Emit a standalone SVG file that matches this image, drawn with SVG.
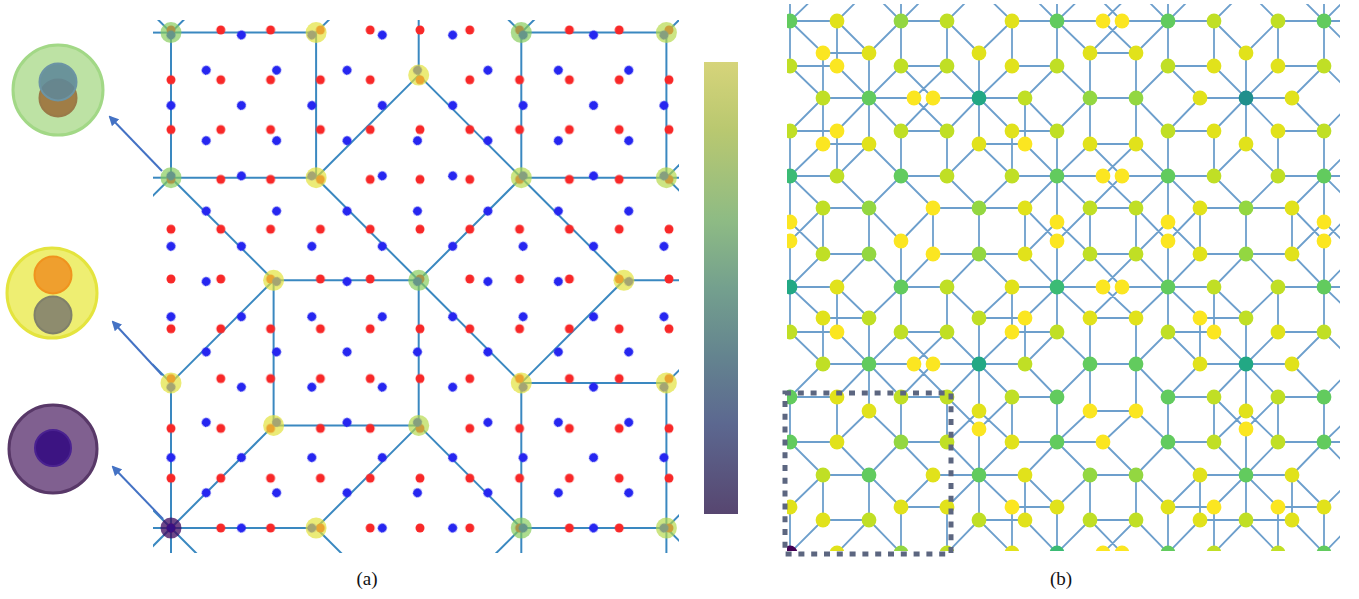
<svg xmlns="http://www.w3.org/2000/svg" width="1359" height="599" viewBox="0 0 1359 599">
<style>
.ln{stroke:#3a88c0;stroke-width:2;fill:none;stroke-linecap:butt}
.ar{stroke:#4472c4;stroke-width:2;fill:none}
.hy{fill:#e2e236;fill-opacity:.68}
.hg{fill:#84cc58;fill-opacity:.68}
.hyg{fill:#b4d848;fill-opacity:.68}
.hp{fill:#3e0a60;fill-opacity:.75}
.bl{stroke:#6d9fcc;stroke-width:1.8;fill:none}
.y1{fill:#fbe621}
.y2{fill:#e1e21b}
.yg{fill:#c0df25}
.g1{fill:#93d741}
.g2{fill:#62cb5e}
.tg{fill:#3bbb75}
.t1{fill:#22a884}
.t2{fill:#208f8c}
.pu{fill:#440154}
.cap{font-family:"Liberation Serif","Times New Roman",serif;font-size:19px;fill:#111}
</style>
<defs>
<pattern id="pr" patternUnits="userSpaceOnUse" x="146.1" y="503.1" width="49.8" height="49.8"><circle cx="24.9" cy="24.9" r="4.5" fill="#f82828"/></pattern>
<pattern id="pb" patternUnits="userSpaceOnUse" x="146.1" y="503.1" width="49.8" height="49.8" patternTransform="rotate(45 171 528)"><circle cx="24.9" cy="24.9" r="4.5" fill="#2626f0"/></pattern>
<clipPath id="ca"><rect x="153" y="20" width="526" height="533"/></clipPath>
<clipPath id="cb"><rect x="787" y="4" width="553" height="547"/></clipPath>
<marker id="ah" viewBox="0 0 10 10" refX="8" refY="5" markerWidth="5" markerHeight="5" orient="auto"><path d="M0,0 L10,5 L0,10 z" fill="#4472c4"/></marker>
<linearGradient id="cbar" x1="0" y1="0" x2="0" y2="1">
<stop offset="0" stop-color="#d6d47a"/>
<stop offset="0.15" stop-color="#b9c870"/>
<stop offset="0.35" stop-color="#8ebb84"/>
<stop offset="0.5" stop-color="#74a08e"/>
<stop offset="0.65" stop-color="#64848f"/>
<stop offset="0.8" stop-color="#5c6890"/>
<stop offset="1" stop-color="#574670"/>
</linearGradient>
</defs>
<rect width="1359" height="599" fill="#fff"/>

<!-- Panel (a) -->
<g id="panel-a">
<g id="a-connectors" clip-path="url(#ca)" class="ln">
<line x1="171" y1="32.6" x2="316.1" y2="32.6"/>
<line x1="171" y1="32.6" x2="171" y2="177.7"/>
<line x1="316.1" y1="32.6" x2="316.1" y2="177.7"/>
<line x1="171" y1="177.7" x2="316.1" y2="177.7"/>
<line x1="521.3" y1="32.6" x2="666.4" y2="32.6"/>
<line x1="521.3" y1="32.6" x2="521.3" y2="177.7"/>
<line x1="666.4" y1="32.6" x2="666.4" y2="177.7"/>
<line x1="521.3" y1="177.7" x2="690" y2="177.7"/>
<line x1="316.1" y1="177.7" x2="418.7" y2="75.1"/>
<line x1="418.7" y1="75.1" x2="521.3" y2="177.7"/>
<line x1="171" y1="177.7" x2="273.6" y2="280.3"/>
<line x1="316.1" y1="177.7" x2="418.7" y2="280.3"/>
<line x1="521.3" y1="177.7" x2="418.7" y2="280.3"/>
<line x1="521.3" y1="177.7" x2="623.9" y2="280.3"/>
<line x1="273.6" y1="280.3" x2="418.7" y2="280.3"/>
<line x1="273.6" y1="280.3" x2="273.6" y2="425.4"/>
<line x1="418.7" y1="280.3" x2="418.7" y2="425.4"/>
<line x1="273.6" y1="280.3" x2="171" y2="382.9"/>
<line x1="418.7" y1="280.3" x2="521.3" y2="382.9"/>
<line x1="623.9" y1="280.3" x2="521.3" y2="382.9"/>
<line x1="171" y1="382.9" x2="171" y2="560"/>
<line x1="521.3" y1="382.9" x2="666.4" y2="382.9"/>
<line x1="521.3" y1="382.9" x2="521.3" y2="560"/>
<line x1="666.4" y1="382.9" x2="666.4" y2="560"/>
<line x1="273.6" y1="425.4" x2="418.7" y2="425.4"/>
<line x1="273.6" y1="425.4" x2="171" y2="528"/>
<line x1="418.7" y1="425.4" x2="316.1" y2="528"/>
<line x1="418.7" y1="425.4" x2="521.3" y2="528"/>
<line x1="150" y1="528" x2="316.1" y2="528"/>
<line x1="521.3" y1="528" x2="666.4" y2="528"/>
<line x1="150" y1="32.6" x2="171" y2="32.6"/>
<line x1="171" y1="32.6" x2="150" y2="11.6"/>
<line x1="171" y1="32.6" x2="192" y2="11.6"/>
<line x1="316.1" y1="32.6" x2="337.1" y2="11.6"/>
<line x1="418.7" y1="75.1" x2="418.7" y2="10"/>
<line x1="521.3" y1="32.6" x2="500.3" y2="11.6"/>
<line x1="521.3" y1="32.6" x2="542.3" y2="11.6"/>
<line x1="666.4" y1="32.6" x2="687.4" y2="11.6"/>
<line x1="150" y1="177.7" x2="171" y2="177.7"/>
<line x1="171" y1="177.7" x2="150" y2="198.7"/>
<line x1="666.4" y1="177.7" x2="690" y2="154.1"/>
<line x1="666.4" y1="177.7" x2="690" y2="201.3"/>
<line x1="623.9" y1="280.3" x2="690" y2="280.3"/>
<line x1="171" y1="382.9" x2="150" y2="361.9"/>
<line x1="666.4" y1="382.9" x2="690" y2="359.3"/>
<line x1="171" y1="528" x2="150" y2="549"/>
<line x1="171" y1="528" x2="200" y2="557"/>
<line x1="171" y1="528" x2="150" y2="507"/>
<line x1="316.1" y1="528" x2="345.1" y2="557"/>
<line x1="521.3" y1="528" x2="492.3" y2="557"/>
<line x1="666.4" y1="528" x2="690" y2="504.4"/>
<line x1="666.4" y1="528" x2="690" y2="551.6"/>
</g>
<g id="a-lattice" clip-path="url(#ca)">
<rect x="160" y="22" width="520" height="518" fill="url(#pr)"/>
<rect x="160" y="22" width="520" height="518" fill="url(#pb)"/>
</g>
<g id="a-nodes">
<g id="a-A1" class="hg"><circle cx="171" cy="32.6" r="10.5"/></g>
<g id="a-A2" class="hy"><circle cx="316.1" cy="32.6" r="10.5"/></g>
<g id="a-A3" class="hy"><circle cx="418.7" cy="75.1" r="10.5"/></g>
<g id="a-A4" class="hg"><circle cx="521.3" cy="32.6" r="10.5"/></g>
<g id="a-A5" class="hyg"><circle cx="666.4" cy="32.6" r="10.5"/></g>
<g id="a-B1" class="hg"><circle cx="171" cy="177.7" r="10.5"/></g>
<g id="a-B2" class="hy"><circle cx="316.1" cy="177.7" r="10.5"/></g>
<g id="a-B3" class="hyg"><circle cx="521.3" cy="177.7" r="10.5"/></g>
<g id="a-B4" class="hyg"><circle cx="666.4" cy="177.7" r="10.5"/></g>
<g id="a-C1" class="hy"><circle cx="273.6" cy="280.3" r="10.5"/></g>
<g id="a-C2" class="hg"><circle cx="418.7" cy="280.3" r="10.5"/></g>
<g id="a-C3" class="hy"><circle cx="623.9" cy="280.3" r="10.5"/></g>
<g id="a-D1" class="hy"><circle cx="171" cy="382.9" r="10.5"/></g>
<g id="a-D2" class="hy"><circle cx="521.3" cy="382.9" r="10.5"/></g>
<g id="a-D3" class="hy"><circle cx="666.4" cy="382.9" r="10.5"/></g>
<g id="a-E1" class="hy"><circle cx="273.6" cy="425.4" r="10.5"/></g>
<g id="a-E2" class="hyg"><circle cx="418.7" cy="425.4" r="10.5"/></g>
<g id="a-F1" class="hp"><circle cx="171" cy="528" r="10.5"/></g>
<g id="a-F2" class="hy"><circle cx="316.1" cy="528" r="10.5"/></g>
<g id="a-F3" class="hg"><circle cx="521.3" cy="528" r="10.5"/></g>
<g id="a-F4" class="hyg"><circle cx="666.4" cy="528" r="10.5"/></g>
</g>
<g id="a-arrows" class="ar">
<line x1="162" y1="171" x2="110" y2="117" marker-end="url(#ah)"/>
<line x1="162" y1="375" x2="113" y2="322" marker-end="url(#ah)"/>
<line x1="163" y1="519" x2="113" y2="467" marker-end="url(#ah)"/>
</g>
<g id="inset-green">
<circle cx="58" cy="90" r="45" fill="#bde2a4" stroke="#a2d886" stroke-width="3"/>
<circle cx="58" cy="98" r="18.5" fill="#a07d46" stroke="#9a7a48" stroke-width="2"/>
<circle cx="58" cy="82" r="18.5" fill="#5f8898" fill-opacity="0.88" stroke="#6c94a4" stroke-width="2"/>
</g>
<g id="inset-yellow">
<circle cx="52" cy="293" r="45" fill="#eeee72" stroke="#e4e43e" stroke-width="3"/>
<circle cx="53" cy="275" r="18.5" fill="#ef9f2e" stroke="#f0931e" stroke-width="2"/>
<circle cx="53" cy="315" r="18.5" fill="#8e8c6e" stroke="#80806a" stroke-width="2"/>
</g>
<g id="inset-purple">
<circle cx="53" cy="449" r="44" fill="#806090" stroke="#583868" stroke-width="3"/>
<circle cx="53" cy="448" r="18" fill="#3c1482" stroke="#4a2290" stroke-width="2"/>
</g>
<g id="colorbar">
<rect x="704" y="62" width="34" height="452" fill="url(#cbar)"/>
</g>
<text class="cap" x="367" y="585" text-anchor="middle">(a)</text>
</g>

<!-- Panel (b) -->
<g id="panel-b">
<g id="b-connectors" clip-path="url(#cb)" class="bl">
<path d="M790 21H837M901 21H947M1012 21H1103M1122 21H1214M1278 21H1345M823 53H869M1090 53H1136M790 66H837M901 66H947M1012 66H1057M1168 66H1214M1278 66H1324M823 98H914M933 98H1025M1090 98H1136M1200 98H1292M790 131H837M901 131H947M1012 131H1057M1168 131H1214M1278 131H1324M823 144H869M979 144H1025M1090 144H1136M790 176H837M901 176H947M1012 176H1103M1122 176H1214M1278 176H1345M823 208H869M933 208H1025M1090 208H1136M1200 208H1292M823 254H869M933 254H1025M1090 254H1136M1200 254H1292M790 287H837M901 287H947M1012 287H1103M1122 287H1214M1278 287H1345M823 318H869M979 318H1025M1090 318H1136M1200 318H1246M790 332H837M901 332H947M1012 332H1057M1168 332H1214M1278 332H1324M823 364H914M933 364H1025M1090 364H1136M1200 364H1292M790 397H837M901 397H947M1012 397H1057M1168 397H1214M1278 397H1324M1090 411H1136M790 442H837M901 442H947M1012 442H1103M1168 442H1214M1278 442H1345M823 475H869M933 475H1025M1090 475H1136M1200 475H1292M901 507H947M1012 507H1057M1168 507H1214M1278 507H1324M823 520H869M979 520H1025M1090 520H1136M1200 520H1292M790 553H837M901 553H947M1012 553H1103M1122 553H1214M1278 553H1345"/>
<path d="M790 0V66M790 131V222M790 241V332M790 397V442M790 507V553M823 53V144M823 208V254M823 318V364M823 475V520M837 21V66M837 131V176M837 287V332M837 397V442M869 53V144M869 208V254M869 318V411M869 475V520M901 0V66M901 131V176M901 241V332M901 397V442M901 507V553M933 208V254M947 21V66M947 131V176M947 287V332M947 397V442M947 507V553M979 53V144M979 208V254M979 318V411M979 429V520M1012 21V66M1012 131V176M1012 287V332M1012 397V442M1012 507V553M1025 98V144M1025 208V254M1025 318V364M1025 475V520M1057 0V66M1057 131V222M1057 241V332M1057 397V442M1057 507V553M1090 53V144M1090 208V254M1090 318V411M1090 475V520M1136 53V144M1136 208V254M1136 318V411M1136 475V520M1168 0V66M1168 131V222M1168 241V332M1168 397V442M1168 507V553M1200 208V254M1200 318V364M1200 475V520M1214 21V66M1214 131V176M1214 287V332M1214 397V442M1214 507V553M1246 53V144M1246 208V254M1246 318V411M1246 429V520M1278 21V66M1278 131V176M1278 287V332M1278 397V442M1278 507V553M1292 208V254M1292 475V520M1324 0V66M1324 131V222M1324 241V332M1324 397V442M1324 507V553"/>
<path d="M823 -11L790 21M869 -11L837 21M869 -11L901 21M933 -11L901 21M979 -11L947 21M979 -11L1012 21M1025 -11L1057 21M1090 -11L1057 21M1136 -11L1103 21M1090 -11L1122 21M1136 -11L1168 21M1200 -11L1168 21M1246 -11L1214 21M1246 -11L1278 21M1292 -11L1324 21M1356 -11L1324 21
M790 21L823 53M837 21L869 53M901 21L869 53M947 21L979 53M1012 21L979 53M1057 21L1090 53M1103 21L1136 53M1122 21L1090 53M1168 21L1136 53M1214 21L1246 53M1278 21L1246 53M1324 21L1356 53
M790 66L823 98M837 66L869 98M901 66L869 98M901 66L933 98M947 66L914 98M947 66L979 98M1012 66L979 98M1057 66L1025 98M1057 66L1090 98M1168 66L1136 98M1168 66L1200 98M1214 66L1246 98M1278 66L1246 98M1324 66L1292 98M1324 66L1356 98
M823 98L790 131M869 98L837 131M869 98L901 131M914 98L947 131M933 98L901 131M979 98L947 131M979 98L1012 131M1025 98L1057 131M1090 98L1057 131M1136 98L1168 131M1200 98L1168 131M1246 98L1214 131M1246 98L1278 131M1292 98L1324 131M1356 98L1324 131
M823 144L790 176M869 144L837 176M869 144L901 176M979 144L947 176M979 144L1012 176M1025 144L1057 176M1090 144L1057 176M1090 144L1122 176M1136 144L1103 176M1136 144L1168 176M1246 144L1214 176M1246 144L1278 176M1356 144L1324 176
M790 176L823 208M837 176L869 208M901 176L869 208M901 176L933 208M947 176L979 208M1012 176L979 208M1057 176L1025 208M1057 176L1090 208M1103 176L1136 208M1122 176L1090 208M1168 176L1136 208M1168 176L1200 208M1214 176L1246 208M1278 176L1246 208M1324 176L1292 208M1324 176L1356 208
M823 208L790 241M869 208L901 241M933 208L901 241M1025 208L1057 241M1090 208L1057 241M1136 208L1168 241M1200 208L1168 241M1292 208L1324 241M1356 208L1324 241
M790 222L823 254M1057 222L1025 254M1057 222L1090 254M1168 222L1136 254M1168 222L1200 254M1324 222L1292 254M1324 222L1356 254
M823 254L790 287M869 254L837 287M869 254L901 287M933 254L901 287M979 254L947 287M979 254L1012 287M1025 254L1057 287M1090 254L1057 287M1090 254L1122 287M1136 254L1103 287M1136 254L1168 287M1200 254L1168 287M1246 254L1214 287M1246 254L1278 287M1292 254L1324 287M1356 254L1324 287
M790 287L823 318M837 287L869 318M901 287L869 318M947 287L979 318M1012 287L979 318M1057 287L1025 318M1057 287L1090 318M1103 287L1136 318M1122 287L1090 318M1168 287L1136 318M1168 287L1200 318M1214 287L1246 318M1278 287L1246 318M1324 287L1356 318
M790 332L823 364M837 332L869 364M901 332L869 364M901 332L933 364M947 332L914 364M947 332L979 364M1012 332L979 364M1057 332L1025 364M1057 332L1090 364M1168 332L1136 364M1168 332L1200 364M1214 332L1246 364M1278 332L1246 364M1324 332L1292 364M1324 332L1356 364
M823 364L790 397M869 364L837 397M869 364L901 397M914 364L947 397M933 364L901 397M979 364L947 397M979 364L1012 397M1025 364L1057 397M1090 364L1057 397M1136 364L1168 397M1200 364L1168 397M1246 364L1214 397M1246 364L1278 397M1292 364L1324 397M1356 364L1324 397
M947 397L979 429M1012 397L979 429M1214 397L1246 429M1278 397L1246 429
M869 411L837 442M869 411L901 442M979 411L947 442M979 411L1012 442M1090 411L1057 442M1136 411L1103 442M1136 411L1168 442M1246 411L1214 442M1246 411L1278 442M1356 411L1324 442
M790 442L823 475M837 442L869 475M901 442L869 475M901 442L933 475M947 442L979 475M1012 442L979 475M1057 442L1025 475M1057 442L1090 475M1103 442L1136 475M1168 442L1136 475M1168 442L1200 475M1214 442L1246 475M1278 442L1246 475M1324 442L1292 475M1324 442L1356 475
M823 475L790 507M869 475L901 507M933 475L901 507M979 475L947 507M979 475L1012 507M1025 475L1057 507M1090 475L1057 507M1136 475L1168 507M1200 475L1168 507M1246 475L1214 507M1246 475L1278 507M1292 475L1324 507M1356 475L1324 507
M823 520L790 553M869 520L837 553M869 520L901 553M979 520L947 553M979 520L1012 553M1025 520L1057 553M1090 520L1057 553M1090 520L1122 553M1136 520L1103 553M1136 520L1168 553M1200 520L1168 553M1246 520L1214 553M1246 520L1278 553M1292 520L1324 553M1356 520L1324 553"/>
</g>
<g id="b-nodes" clip-path="url(#cb)">
<g id="b-790-21" class="g2"><circle cx="790" cy="21" r="7.4"/></g>
<g id="b-837-21" class="y2"><circle cx="837" cy="21" r="7.4"/></g>
<g id="b-901-21" class="g1"><circle cx="901" cy="21" r="7.4"/></g>
<g id="b-947-21" class="yg"><circle cx="947" cy="21" r="7.4"/></g>
<g id="b-1012-21" class="y2"><circle cx="1012" cy="21" r="7.4"/></g>
<g id="b-1057-21" class="g2"><circle cx="1057" cy="21" r="7.4"/></g>
<g id="b-1103-21" class="y1"><circle cx="1103" cy="21" r="7.4"/></g>
<g id="b-1122-21" class="y1"><circle cx="1122" cy="21" r="7.4"/></g>
<g id="b-1168-21" class="g2"><circle cx="1168" cy="21" r="7.4"/></g>
<g id="b-1214-21" class="yg"><circle cx="1214" cy="21" r="7.4"/></g>
<g id="b-1278-21" class="yg"><circle cx="1278" cy="21" r="7.4"/></g>
<g id="b-1324-21" class="g2"><circle cx="1324" cy="21" r="7.4"/></g>
<g id="b-823-53" class="y1"><circle cx="823" cy="53" r="7.4"/></g>
<g id="b-869-53" class="y2"><circle cx="869" cy="53" r="7.4"/></g>
<g id="b-979-53" class="y2"><circle cx="979" cy="53" r="7.4"/></g>
<g id="b-1090-53" class="y2"><circle cx="1090" cy="53" r="7.4"/></g>
<g id="b-1136-53" class="y2"><circle cx="1136" cy="53" r="7.4"/></g>
<g id="b-1246-53" class="y2"><circle cx="1246" cy="53" r="7.4"/></g>
<g id="b-790-66" class="yg"><circle cx="790" cy="66" r="7.4"/></g>
<g id="b-837-66" class="y1"><circle cx="837" cy="66" r="7.4"/></g>
<g id="b-901-66" class="yg"><circle cx="901" cy="66" r="7.4"/></g>
<g id="b-947-66" class="yg"><circle cx="947" cy="66" r="7.4"/></g>
<g id="b-1012-66" class="y2"><circle cx="1012" cy="66" r="7.4"/></g>
<g id="b-1057-66" class="yg"><circle cx="1057" cy="66" r="7.4"/></g>
<g id="b-1168-66" class="yg"><circle cx="1168" cy="66" r="7.4"/></g>
<g id="b-1214-66" class="y2"><circle cx="1214" cy="66" r="7.4"/></g>
<g id="b-1278-66" class="y2"><circle cx="1278" cy="66" r="7.4"/></g>
<g id="b-1324-66" class="yg"><circle cx="1324" cy="66" r="7.4"/></g>
<g id="b-823-98" class="yg"><circle cx="823" cy="98" r="7.4"/></g>
<g id="b-869-98" class="g2"><circle cx="869" cy="98" r="7.4"/></g>
<g id="b-914-98" class="y1"><circle cx="914" cy="98" r="7.4"/></g>
<g id="b-933-98" class="y1"><circle cx="933" cy="98" r="7.4"/></g>
<g id="b-979-98" class="t1"><circle cx="979" cy="98" r="7.4"/></g>
<g id="b-1025-98" class="yg"><circle cx="1025" cy="98" r="7.4"/></g>
<g id="b-1090-98" class="g1"><circle cx="1090" cy="98" r="7.4"/></g>
<g id="b-1136-98" class="g1"><circle cx="1136" cy="98" r="7.4"/></g>
<g id="b-1200-98" class="y2"><circle cx="1200" cy="98" r="7.4"/></g>
<g id="b-1246-98" class="t2"><circle cx="1246" cy="98" r="7.4"/></g>
<g id="b-1292-98" class="y2"><circle cx="1292" cy="98" r="7.4"/></g>
<g id="b-790-131" class="yg"><circle cx="790" cy="131" r="7.4"/></g>
<g id="b-837-131" class="y1"><circle cx="837" cy="131" r="7.4"/></g>
<g id="b-901-131" class="yg"><circle cx="901" cy="131" r="7.4"/></g>
<g id="b-947-131" class="yg"><circle cx="947" cy="131" r="7.4"/></g>
<g id="b-1012-131" class="y2"><circle cx="1012" cy="131" r="7.4"/></g>
<g id="b-1057-131" class="yg"><circle cx="1057" cy="131" r="7.4"/></g>
<g id="b-1168-131" class="yg"><circle cx="1168" cy="131" r="7.4"/></g>
<g id="b-1214-131" class="y2"><circle cx="1214" cy="131" r="7.4"/></g>
<g id="b-1278-131" class="y2"><circle cx="1278" cy="131" r="7.4"/></g>
<g id="b-1324-131" class="yg"><circle cx="1324" cy="131" r="7.4"/></g>
<g id="b-823-144" class="y1"><circle cx="823" cy="144" r="7.4"/></g>
<g id="b-869-144" class="y2"><circle cx="869" cy="144" r="7.4"/></g>
<g id="b-979-144" class="y2"><circle cx="979" cy="144" r="7.4"/></g>
<g id="b-1025-144" class="y1"><circle cx="1025" cy="144" r="7.4"/></g>
<g id="b-1090-144" class="y2"><circle cx="1090" cy="144" r="7.4"/></g>
<g id="b-1136-144" class="y2"><circle cx="1136" cy="144" r="7.4"/></g>
<g id="b-1246-144" class="y2"><circle cx="1246" cy="144" r="7.4"/></g>
<g id="b-790-176" class="tg"><circle cx="790" cy="176" r="7.4"/></g>
<g id="b-837-176" class="yg"><circle cx="837" cy="176" r="7.4"/></g>
<g id="b-901-176" class="g2"><circle cx="901" cy="176" r="7.4"/></g>
<g id="b-947-176" class="yg"><circle cx="947" cy="176" r="7.4"/></g>
<g id="b-1012-176" class="yg"><circle cx="1012" cy="176" r="7.4"/></g>
<g id="b-1057-176" class="g2"><circle cx="1057" cy="176" r="7.4"/></g>
<g id="b-1103-176" class="y1"><circle cx="1103" cy="176" r="7.4"/></g>
<g id="b-1122-176" class="y1"><circle cx="1122" cy="176" r="7.4"/></g>
<g id="b-1168-176" class="g2"><circle cx="1168" cy="176" r="7.4"/></g>
<g id="b-1214-176" class="yg"><circle cx="1214" cy="176" r="7.4"/></g>
<g id="b-1278-176" class="yg"><circle cx="1278" cy="176" r="7.4"/></g>
<g id="b-1324-176" class="g2"><circle cx="1324" cy="176" r="7.4"/></g>
<g id="b-823-208" class="yg"><circle cx="823" cy="208" r="7.4"/></g>
<g id="b-869-208" class="g1"><circle cx="869" cy="208" r="7.4"/></g>
<g id="b-933-208" class="y1"><circle cx="933" cy="208" r="7.4"/></g>
<g id="b-979-208" class="g1"><circle cx="979" cy="208" r="7.4"/></g>
<g id="b-1025-208" class="y2"><circle cx="1025" cy="208" r="7.4"/></g>
<g id="b-1090-208" class="yg"><circle cx="1090" cy="208" r="7.4"/></g>
<g id="b-1136-208" class="yg"><circle cx="1136" cy="208" r="7.4"/></g>
<g id="b-1200-208" class="y2"><circle cx="1200" cy="208" r="7.4"/></g>
<g id="b-1246-208" class="g1"><circle cx="1246" cy="208" r="7.4"/></g>
<g id="b-1292-208" class="y2"><circle cx="1292" cy="208" r="7.4"/></g>
<g id="b-790-222" class="y1"><circle cx="790" cy="222" r="7.4"/></g>
<g id="b-1057-222" class="y1"><circle cx="1057" cy="222" r="7.4"/></g>
<g id="b-1168-222" class="y1"><circle cx="1168" cy="222" r="7.4"/></g>
<g id="b-1324-222" class="y1"><circle cx="1324" cy="222" r="7.4"/></g>
<g id="b-790-241" class="y1"><circle cx="790" cy="241" r="7.4"/></g>
<g id="b-901-241" class="y1"><circle cx="901" cy="241" r="7.4"/></g>
<g id="b-1057-241" class="y1"><circle cx="1057" cy="241" r="7.4"/></g>
<g id="b-1168-241" class="y1"><circle cx="1168" cy="241" r="7.4"/></g>
<g id="b-1324-241" class="y1"><circle cx="1324" cy="241" r="7.4"/></g>
<g id="b-823-254" class="yg"><circle cx="823" cy="254" r="7.4"/></g>
<g id="b-869-254" class="g1"><circle cx="869" cy="254" r="7.4"/></g>
<g id="b-933-254" class="y1"><circle cx="933" cy="254" r="7.4"/></g>
<g id="b-979-254" class="g1"><circle cx="979" cy="254" r="7.4"/></g>
<g id="b-1025-254" class="y2"><circle cx="1025" cy="254" r="7.4"/></g>
<g id="b-1090-254" class="yg"><circle cx="1090" cy="254" r="7.4"/></g>
<g id="b-1136-254" class="yg"><circle cx="1136" cy="254" r="7.4"/></g>
<g id="b-1200-254" class="y2"><circle cx="1200" cy="254" r="7.4"/></g>
<g id="b-1246-254" class="g1"><circle cx="1246" cy="254" r="7.4"/></g>
<g id="b-1292-254" class="y2"><circle cx="1292" cy="254" r="7.4"/></g>
<g id="b-790-287" class="t1"><circle cx="790" cy="287" r="7.4"/></g>
<g id="b-837-287" class="y2"><circle cx="837" cy="287" r="7.4"/></g>
<g id="b-901-287" class="g2"><circle cx="901" cy="287" r="7.4"/></g>
<g id="b-947-287" class="yg"><circle cx="947" cy="287" r="7.4"/></g>
<g id="b-1012-287" class="y2"><circle cx="1012" cy="287" r="7.4"/></g>
<g id="b-1057-287" class="tg"><circle cx="1057" cy="287" r="7.4"/></g>
<g id="b-1103-287" class="y1"><circle cx="1103" cy="287" r="7.4"/></g>
<g id="b-1122-287" class="y1"><circle cx="1122" cy="287" r="7.4"/></g>
<g id="b-1168-287" class="g2"><circle cx="1168" cy="287" r="7.4"/></g>
<g id="b-1214-287" class="yg"><circle cx="1214" cy="287" r="7.4"/></g>
<g id="b-1278-287" class="yg"><circle cx="1278" cy="287" r="7.4"/></g>
<g id="b-1324-287" class="g2"><circle cx="1324" cy="287" r="7.4"/></g>
<g id="b-823-318" class="y2"><circle cx="823" cy="318" r="7.4"/></g>
<g id="b-869-318" class="yg"><circle cx="869" cy="318" r="7.4"/></g>
<g id="b-979-318" class="yg"><circle cx="979" cy="318" r="7.4"/></g>
<g id="b-1025-318" class="y1"><circle cx="1025" cy="318" r="7.4"/></g>
<g id="b-1090-318" class="y2"><circle cx="1090" cy="318" r="7.4"/></g>
<g id="b-1136-318" class="y2"><circle cx="1136" cy="318" r="7.4"/></g>
<g id="b-1200-318" class="y1"><circle cx="1200" cy="318" r="7.4"/></g>
<g id="b-1246-318" class="yg"><circle cx="1246" cy="318" r="7.4"/></g>
<g id="b-790-332" class="yg"><circle cx="790" cy="332" r="7.4"/></g>
<g id="b-837-332" class="y1"><circle cx="837" cy="332" r="7.4"/></g>
<g id="b-901-332" class="yg"><circle cx="901" cy="332" r="7.4"/></g>
<g id="b-947-332" class="yg"><circle cx="947" cy="332" r="7.4"/></g>
<g id="b-1012-332" class="y1"><circle cx="1012" cy="332" r="7.4"/></g>
<g id="b-1057-332" class="yg"><circle cx="1057" cy="332" r="7.4"/></g>
<g id="b-1168-332" class="yg"><circle cx="1168" cy="332" r="7.4"/></g>
<g id="b-1214-332" class="y1"><circle cx="1214" cy="332" r="7.4"/></g>
<g id="b-1278-332" class="y2"><circle cx="1278" cy="332" r="7.4"/></g>
<g id="b-1324-332" class="yg"><circle cx="1324" cy="332" r="7.4"/></g>
<g id="b-823-364" class="yg"><circle cx="823" cy="364" r="7.4"/></g>
<g id="b-869-364" class="g2"><circle cx="869" cy="364" r="7.4"/></g>
<g id="b-914-364" class="y1"><circle cx="914" cy="364" r="7.4"/></g>
<g id="b-933-364" class="y1"><circle cx="933" cy="364" r="7.4"/></g>
<g id="b-979-364" class="t1"><circle cx="979" cy="364" r="7.4"/></g>
<g id="b-1025-364" class="yg"><circle cx="1025" cy="364" r="7.4"/></g>
<g id="b-1090-364" class="g2"><circle cx="1090" cy="364" r="7.4"/></g>
<g id="b-1136-364" class="g2"><circle cx="1136" cy="364" r="7.4"/></g>
<g id="b-1200-364" class="y2"><circle cx="1200" cy="364" r="7.4"/></g>
<g id="b-1246-364" class="t1"><circle cx="1246" cy="364" r="7.4"/></g>
<g id="b-1292-364" class="y2"><circle cx="1292" cy="364" r="7.4"/></g>
<g id="b-790-397" class="g2"><circle cx="790" cy="397" r="7.4"/></g>
<g id="b-837-397" class="y2"><circle cx="837" cy="397" r="7.4"/></g>
<g id="b-901-397" class="yg"><circle cx="901" cy="397" r="7.4"/></g>
<g id="b-947-397" class="yg"><circle cx="947" cy="397" r="7.4"/></g>
<g id="b-1012-397" class="yg"><circle cx="1012" cy="397" r="7.4"/></g>
<g id="b-1057-397" class="g2"><circle cx="1057" cy="397" r="7.4"/></g>
<g id="b-1168-397" class="g2"><circle cx="1168" cy="397" r="7.4"/></g>
<g id="b-1214-397" class="yg"><circle cx="1214" cy="397" r="7.4"/></g>
<g id="b-1278-397" class="yg"><circle cx="1278" cy="397" r="7.4"/></g>
<g id="b-1324-397" class="g2"><circle cx="1324" cy="397" r="7.4"/></g>
<g id="b-869-411" class="y2"><circle cx="869" cy="411" r="7.4"/></g>
<g id="b-979-411" class="y2"><circle cx="979" cy="411" r="7.4"/></g>
<g id="b-1090-411" class="y1"><circle cx="1090" cy="411" r="7.4"/></g>
<g id="b-1136-411" class="y1"><circle cx="1136" cy="411" r="7.4"/></g>
<g id="b-1246-411" class="y2"><circle cx="1246" cy="411" r="7.4"/></g>
<g id="b-979-429" class="y1"><circle cx="979" cy="429" r="7.4"/></g>
<g id="b-1246-429" class="y1"><circle cx="1246" cy="429" r="7.4"/></g>
<g id="b-790-442" class="g2"><circle cx="790" cy="442" r="7.4"/></g>
<g id="b-837-442" class="y2"><circle cx="837" cy="442" r="7.4"/></g>
<g id="b-901-442" class="g1"><circle cx="901" cy="442" r="7.4"/></g>
<g id="b-947-442" class="yg"><circle cx="947" cy="442" r="7.4"/></g>
<g id="b-1012-442" class="y2"><circle cx="1012" cy="442" r="7.4"/></g>
<g id="b-1057-442" class="g2"><circle cx="1057" cy="442" r="7.4"/></g>
<g id="b-1103-442" class="y1"><circle cx="1103" cy="442" r="7.4"/></g>
<g id="b-1168-442" class="g2"><circle cx="1168" cy="442" r="7.4"/></g>
<g id="b-1214-442" class="yg"><circle cx="1214" cy="442" r="7.4"/></g>
<g id="b-1278-442" class="yg"><circle cx="1278" cy="442" r="7.4"/></g>
<g id="b-1324-442" class="g2"><circle cx="1324" cy="442" r="7.4"/></g>
<g id="b-823-475" class="yg"><circle cx="823" cy="475" r="7.4"/></g>
<g id="b-869-475" class="g2"><circle cx="869" cy="475" r="7.4"/></g>
<g id="b-933-475" class="y2"><circle cx="933" cy="475" r="7.4"/></g>
<g id="b-979-475" class="g2"><circle cx="979" cy="475" r="7.4"/></g>
<g id="b-1025-475" class="y2"><circle cx="1025" cy="475" r="7.4"/></g>
<g id="b-1090-475" class="g1"><circle cx="1090" cy="475" r="7.4"/></g>
<g id="b-1136-475" class="g1"><circle cx="1136" cy="475" r="7.4"/></g>
<g id="b-1200-475" class="y2"><circle cx="1200" cy="475" r="7.4"/></g>
<g id="b-1246-475" class="g2"><circle cx="1246" cy="475" r="7.4"/></g>
<g id="b-1292-475" class="y2"><circle cx="1292" cy="475" r="7.4"/></g>
<g id="b-790-507" class="y2"><circle cx="790" cy="507" r="7.4"/></g>
<g id="b-901-507" class="y2"><circle cx="901" cy="507" r="7.4"/></g>
<g id="b-947-507" class="y2"><circle cx="947" cy="507" r="7.4"/></g>
<g id="b-1012-507" class="y1"><circle cx="1012" cy="507" r="7.4"/></g>
<g id="b-1057-507" class="y2"><circle cx="1057" cy="507" r="7.4"/></g>
<g id="b-1168-507" class="y2"><circle cx="1168" cy="507" r="7.4"/></g>
<g id="b-1214-507" class="y1"><circle cx="1214" cy="507" r="7.4"/></g>
<g id="b-1278-507" class="y1"><circle cx="1278" cy="507" r="7.4"/></g>
<g id="b-1324-507" class="y2"><circle cx="1324" cy="507" r="7.4"/></g>
<g id="b-823-520" class="y2"><circle cx="823" cy="520" r="7.4"/></g>
<g id="b-869-520" class="yg"><circle cx="869" cy="520" r="7.4"/></g>
<g id="b-979-520" class="yg"><circle cx="979" cy="520" r="7.4"/></g>
<g id="b-1025-520" class="y2"><circle cx="1025" cy="520" r="7.4"/></g>
<g id="b-1090-520" class="yg"><circle cx="1090" cy="520" r="7.4"/></g>
<g id="b-1136-520" class="yg"><circle cx="1136" cy="520" r="7.4"/></g>
<g id="b-1200-520" class="y2"><circle cx="1200" cy="520" r="7.4"/></g>
<g id="b-1246-520" class="yg"><circle cx="1246" cy="520" r="7.4"/></g>
<g id="b-1292-520" class="y2"><circle cx="1292" cy="520" r="7.4"/></g>
<g id="b-790-553" class="pu"><circle cx="790" cy="553" r="7.4"/></g>
<g id="b-837-553" class="y2"><circle cx="837" cy="553" r="7.4"/></g>
<g id="b-901-553" class="g1"><circle cx="901" cy="553" r="7.4"/></g>
<g id="b-947-553" class="yg"><circle cx="947" cy="553" r="7.4"/></g>
<g id="b-1012-553" class="y2"><circle cx="1012" cy="553" r="7.4"/></g>
<g id="b-1057-553" class="tg"><circle cx="1057" cy="553" r="7.4"/></g>
<g id="b-1103-553" class="y1"><circle cx="1103" cy="553" r="7.4"/></g>
<g id="b-1122-553" class="y1"><circle cx="1122" cy="553" r="7.4"/></g>
<g id="b-1168-553" class="g2"><circle cx="1168" cy="553" r="7.4"/></g>
<g id="b-1214-553" class="yg"><circle cx="1214" cy="553" r="7.4"/></g>
<g id="b-1278-553" class="yg"><circle cx="1278" cy="553" r="7.4"/></g>
<g id="b-1324-553" class="g2"><circle cx="1324" cy="553" r="7.4"/></g>
</g>
<g id="b-box">
<rect x="785" y="393" width="166" height="161" fill="none" stroke="#5c6680" stroke-width="5" stroke-dasharray="6 6.8"/>
</g>
<text class="cap" x="1061" y="585" text-anchor="middle">(b)</text>
</g>
</svg>
